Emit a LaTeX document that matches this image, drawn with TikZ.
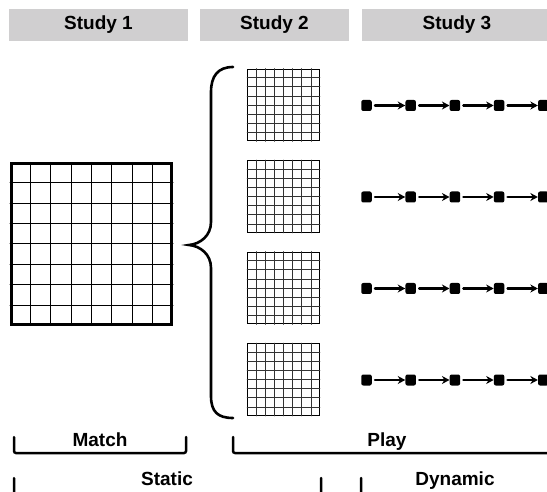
\documentclass[tikz,border=0pt]{standalone}
\usepackage{fontspec}
\setmainfont{Liberation Sans}
\usetikzlibrary{positioning, calc}
\usetikzlibrary{arrows.meta}

\definecolor{headgray}{RGB}{208,207,208}

\tikzset{
  header/.style={fill=headgray, minimum height=31.5pt, inner sep=0pt,
    font=\bfseries\fontsize{19}{20}\selectfont},
  tag/.style={inner sep=0pt, anchor=base, font=\bfseries\fontsize{19}{20}\selectfont},
  biggrid/.style={draw, line width=3pt, minimum size=160pt, inner sep=0pt},
  smallgrid/.style={draw, line width=1.4pt, minimum size=71.5pt, inner sep=0pt},
  state/.style={fill=black, rounded corners=2pt, minimum width=10.5pt, minimum height=11pt, inner sep=0pt},
  bracket/.style={line width=2.5pt, rounded corners=2pt},
}

\begin{document}
\begin{tikzpicture}[x=1pt,y=-1pt,line cap=round]
  \useasboundingbox (0,0) rectangle (547,492);
  \clip (0,0) rectangle (547,492);

  % --- Intestazioni ---
  \node[header, minimum width=179pt] (s1) at (98.5,25) {Study 1};
  \node[header, minimum width=149pt] (s2) at (274.5,25) {Study 2};
  \node[header, minimum width=190pt] (s3) at (457,25) {Study 3};

  % --- Griglia grande (Study 1) ---
  \node[biggrid] (big) at (91.5,244) {};
  \foreach \i in {1,...,7} {
    \draw[line width=1pt] ($(big.north west)!\i/8!(big.north east)$) -- ($(big.south west)!\i/8!(big.south east)$);
    \draw[line width=1pt] ($(big.north west)!\i/8!(big.south west)$) -- ($(big.north east)!\i/8!(big.south east)$);
  }

  % --- Parentesi graffa ---
  \draw[line width=2.6pt]
    (233,67) .. controls (218,67) and (211,76) .. (211,92) -- (211,222)
    .. controls (211,236) and (200,244) .. (189,245)
    .. controls (200,246) and (211,254) .. (211,268) -- (211,396)
    .. controls (211,412) and (218,418) .. (233,418);

  % --- Griglie piccole (Study 2) e catene (Study 3) ---
  \foreach \r in {1,...,4} {
    \node[smallgrid] (g\r) at (283.5,{105+91.5*(\r-1)}) {};
    \foreach \i in {1,...,7} {
      \draw[line width=0.6pt, black!80] ($(g\r.north west)!\i/8!(g\r.north east)$) -- ($(g\r.south west)!\i/8!(g\r.south east)$);
      \draw[line width=0.6pt, black!80] ($(g\r.north west)!\i/8!(g\r.south west)$) -- ($(g\r.north east)!\i/8!(g\r.south east)$);
    }
    \foreach \j in {1,...,5}
      \node[state] (c\r-\j) at ({366.5+44.2*(\j-1)},{105.5+91.5*(\r-1)}) {};
    \foreach \j [evaluate=\j as \k using int(\j+1)] in {1,...,4}
      \draw[-{Stealth[length=7.5pt,width=8pt]}, line width=2.3pt, shorten <=3pt]
        (c\r-\j) -- (c\r-\k);
  }

  % --- Etichette in basso ---
  \node[tag] (match) at (100,446) {Match};
  \node[tag] (play) at (387,446) {Play};
  \node[tag] (static) at (167,485) {Static};
  \node[tag] (dynamic) at (455,485) {Dynamic};

  \draw[bracket] (14,437) -- (14,453) -- (186,453) -- (186,437);
  \draw[bracket] (233,437) -- (233,453) -- (560,453);
  \draw[bracket] (14,478) -- (14,497) -- (321,497) -- (321,478);
  \draw[bracket] (361,478) -- (361,494) -- (560,494);
\end{tikzpicture}
\end{document}
